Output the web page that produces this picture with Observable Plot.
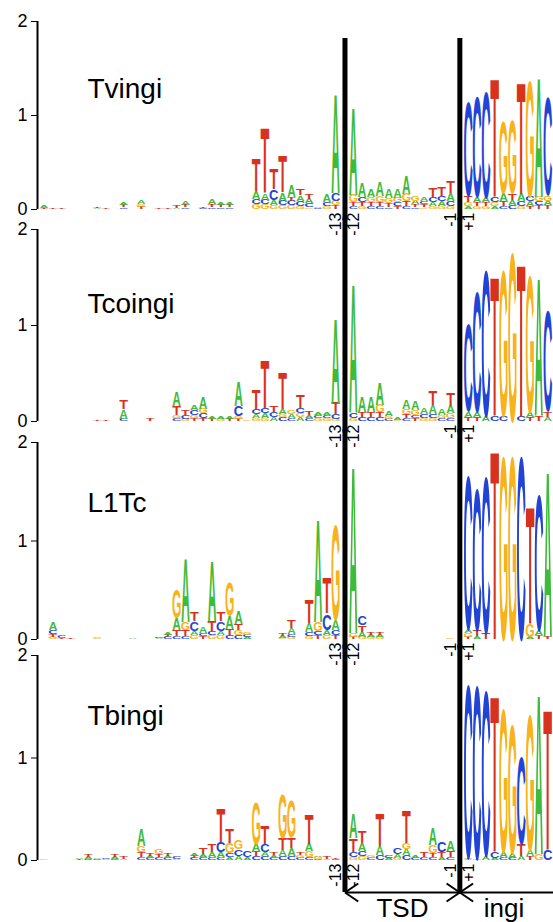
<!DOCTYPE html>
<html><head><meta charset="utf-8">
<script src="https://cdn.jsdelivr.net/npm/d3@7"></script>
<script src="https://cdn.jsdelivr.net/npm/@observablehq/plot@0.6"></script>
<style>
html,body{margin:0;padding:0;background:#fff;overflow:hidden;}
#chart svg{display:block;}
</style></head><body><div id="chart"></div>
<script>
// ---- data ----
const panelNames = ["Tvingi", "Tcoingi", "L1Tc", "Tbingi"];
const tickPositions = [-13, -12, -1, 1];
const tickLabels = ["-13", "-12", "-1", "+1"];
const regionLabels = ["TSD", "ingi"];
const yTicks = [0, 1, 2];
// columns: [position, stack bottom->top as Letter+bits]
const tvingi = [
  [-46, "T.01 A.03"], [-45, "T.01"], [-44, "T.01"], [-40, "A.01 T.01"], [-39, "T.01"],
  [-37, "C.02 T.02 A.03"], [-35, "T.02 G.03 A.04"], [-33, "T.01"], [-32, "T.01"],
  [-31, "A.01 T.02"], [-30, "C.02 T.02 A.04"], [-28, "C.01 T.01"], [-27, "C.02 T.03 A.05"],
  [-26, "C.02 T.02 A.03"], [-25, "C.02 T.02 A.03"],
  [-22, "G.05 C.06 A.08 T.35"], [-21, "G.05 C.05 A.07 T.71"], [-20, "G.04 A.06 C.11 T.23"],
  [-19, "G.04 C.05 A.09 T.39"], [-18, "G.04 C.05 T.04 A.12"], [-17, "G.03 C.06 A.06 T.07"],
  [-16, "G.02 C.04 A.05 T.06"], [-15, "C.01 A.01"], [-14, "G.03 C.04 A.09"],
  [-13, "T.04 G.05 C.08 A1.07"],
  [-12, "C.03 T.04 G.08 A.95"], [-11, "G.03 T.04 C.06 A.15"], [-10, "C.03 T.04 G.06 A.09"],
  [-9, "C.03 T.04 G.07 A.16"], [-8, "C.02 T.04 G.06 A.10"], [-7, "T.03 C.04 G.05 A.10"],
  [-6, "C.03 T.05 G.08 A.19"], [-5, "C.02 T.03 A.04 G.05"], [-4, "G.02 T.03 C.03 A.04"],
  [-3, "G.03 A.04 C.06 T.10"], [-2, "G.03 A.05 C.06 T.10"], [-1, "G.03 C.05 A.09 T.12"],
  [1, "A.03 G.04 T.07 C1.05"], [2, "G.03 T.04 A.06 C1.12"], [3, "G.03 T.04 A.05 C1.18"],
  [4, "A.03 G.04 C.06 T1.28"], [5, "C.03 T.05 A.09 G.80"], [6, "C.04 A.06 T.07 G.82"],
  [7, "G.03 C.05 A.08 T1.22"], [8, "T.03 A.05 C.06 G1.30"], [9, "T.04 C.04 G.05 A1.30"],
  [10, "T.04 A.05 G.06 C1.10"]
];
const tcoingi = [
  [-40, "T.01"], [-39, "T.01"], [-37, "C.02 A.10 T.10"], [-34, "T.02"],
  [-31, "C.03 G.03 T.10 A.15"], [-30, "G.02 C.04 T.06"], [-29, "T.03 G.03 C.05 A.05"],
  [-28, "T.03 C.05 G.05 A.12"], [-27, "T.02 A.03"], [-26, "G.02 A.03"], [-25, "T.02 A.03"],
  [-24, "T.02 G.03 C.11 A.26"], [-23, "G.01"], [-22, "G.03 A.04 C.06 T.21"],
  [-21, "G.03 A.05 C.06 T.51"], [-20, "A.04 C.05 T.07"], [-19, "C.04 G.03 A.05 T.38"],
  [-18, "C.03 A.04 G.04"], [-17, "A.04 G.04 C.06 T.13"], [-16, "C.03 A.03 T.04"],
  [-15, "G.03 C.03 A.03"], [-14, "G.03 C.03 A.03"], [-13, "G.02 C.05 T.12 A.90"],
  [-12, "G.03 C.06 A1.37"], [-11, "C.04 T.05 A.16"], [-10, "C.04 T.05 A.16"],
  [-9, "C.04 T.05 G.08 A.24"], [-8, "C.02 G.03 A.05"], [-7, "G.01 A.02"],
  [-6, "C.03 T.04 G.05 A.10"], [-5, "T.03 C.03 G.05 A.10"], [-4, "G.03 C.04 A.07"],
  [-3, "G.03 C.04 A.10 T.15"], [-2, "C.03 G.03 A.07"], [-1, "C.03 G.05 A.08 T.14"],
  [1, "T.04 A.06 C.96"], [2, "T.04 A.06 C1.31"], [3, "A.05 C1.60"], [4, "C.05 T1.48"],
  [5, "C.05 G1.60"], [6, "G1.85"], [7, "C.05 T1.62"], [8, "T.04 A.05 G1.50"],
  [9, "T.05 A1.47"], [10, "A.04 T.06 C1.10"]
];
const l1tc = [
  [-45, "G.02 T.03 C.04 A.08"], [-44, "T.01 C.02"], [-43, "T.01"], [-40, "G.01 A.01"],
  [-36, "A.01"], [-33, "A.01 C.01"], [-32, "C.02 T.02 A.02"],
  [-31, "C.03 T.06 A.12 G.31"], [-30, "C.03 T.06 G.08 A.66"], [-29, "G.04 A.04 C.10 T.09"],
  [-28, "T.03 C.03 A.06"], [-27, "G.04 C.04 T.10 A.62"], [-26, "G.04 A.04 C.10 T.09"],
  [-25, "C.04 T.06 A.13 G.36"], [-24, "C.04 G.05 T.06 A.14"], [-23, "A.02 C.02 G.02"],
  [-19, "G.01 A.02 T.02"], [-18, "G.02 C.03 A.06 T.08"], [-16, "G.03 C.04 A.09 T.24"],
  [-15, "T.04 C.04 G.09 A1.07"], [-14, "G.04 A.05 C.17 T.36"], [-13, "T.04 C.05 A.10 G1.02"],
  [-12, "T.02 G.04 A1.73"], [-11, "G.02 A.05 T.07 C.10"], [-10, "G.02 A.02 T.03"],
  [-9, "G.02 A.02 T.03"], [-1, "G.01"],
  [1, "T.02 G.04 A.04 C1.65"], [2, "A.03 T.06 C1.52"], [3, "T.06 C1.67"], [4, "T1.96"],
  [5, "G1.96"], [6, "G1.96"], [7, "C1.96"], [8, "A.02 G.14 T1.22"], [9, "T.04 A.05 C1.45"],
  [10, "T.03 A1.72"]
];
const tbingi = [
  [-46, "G.01"], [-42, "T.01 A.01"], [-41, "C.01 A.02 T.03"], [-40, "C.01 A.01"],
  [-39, "A.01 C.01"], [-38, "C.01 A.02 T.03"], [-37, "A.01 T.02"],
  [-35, "C.03 T.05 G.06 A.17"], [-34, "C.02 A.02 T.02"], [-33, "C.03 T.03 G.05"],
  [-32, "C.02 A.02 T.02"], [-31, "A.01 C.02"], [-29, "C.02 T.02 A.02"],
  [-28, "C.03 A.03 T.06"], [-27, "C.03 A.05 T.08"], [-26, "C.03 A.05 C.10 T.34"],
  [-25, "A.03 C.04 G.10 T.14"], [-24, "A.04 C.07 G.09"], [-23, "A.03 C.07"],
  [-22, "C.04 T.05 A.07 G.43"], [-21, "C.04 A.04 C.08 T.18"], [-20, "C.02 A.03 T.03"],
  [-19, "C.04 A.06 T.11 G.45"], [-18, "C.04 A.08 T.10 G.38"], [-17, "C.02 G.03 T.03"],
  [-16, "C.03 G.06 A.07 T.30"], [-15, "C.01 G.02 A.01"], [-14, "A.01 T.02"], [-13, "C.01 T.01"],
  [-12, "G.03 C.05 T.13 A.24"], [-11, "G.04 C.05 A.08 T.11"], [-10, "C.02 G.02"],
  [-9, "C.05 A.09 T.32"], [-8, "A.02 C.03"], [-7, "G.02 A.04 C.06"],
  [-6, "C.05 A.06 G.06 T.32"], [-5, "C.02 A.02"], [-4, "C.03 T.05"],
  [-3, "C.03 T.04 G.08 A.17"], [-2, "A.03 T.05 C.10"], [-1, "C.03 T.06 A.10"],
  [1, "A.01 T.01 C1.78"], [2, "T.01 C1.78"], [3, "A.04 C1.70"], [4, "A.02 C.06 T1.55"],
  [5, "C.03 A.05 G1.48"], [6, "C.02 A.05 G1.32"], [7, "A.04 T.12 C.90"],
  [8, "T.04 A.06 G1.40"], [9, "G.06 A1.60"], [10, "C.10 T1.40"]
];
const panelColumns = [tvingi, tcoingi, l1tc, tbingi];

// ---- helpers ----
const FONT = "'Liberation Sans', Arial, Helvetica, sans-serif";
const LETTER_COLORS = {A: "#3dbb3a", C: "#2143d6", G: "#f8b21c", T: "#d8321f"};
const INK = {A: [0.70, 0.716], C: [0.64, 0.74], G: [0.69, 0.74], T: [0.58, 0.716]};
// gap column between -13/-12 and between -1/+1
const posToX = p => (p <= -13 ? p : p + 1);
const boundaries = [(posToX(-13) + posToX(-12)) / 2, (posToX(-1) + posToX(1)) / 2];
const xDomain = [-46.8, 11.6];

function stackLetters(cols) {
  const out = [];
  for (const [p, s] of cols) {
    let y = 0;
    for (const tok of s.split(" ")) {
      const L = tok[0], h = +tok.slice(1);
      out.push({x: posToX(p), letter: L, y0: y, y1: y + h});
      y += h;
    }
  }
  return out;
}

function logoRender(data) {
  return (index, scales) => {
    const g = d3.create("svg:g").attr("font-family", FONT).attr("font-weight", "bold").attr("text-anchor", "middle");
    const w = Math.abs(scales.x(1) - scales.x(0)) * 0.94;
    const fs = 20;
    for (const i of index) {
      const d = data[i];
      const yb = scales.y(d.y0), yt = scales.y(d.y1);
      const h = yb - yt;
      if (h <= 0) continue;
      const [we, he] = INK[d.letter];
      g.append("text")
        .attr("transform", `translate(${scales.x(d.x)},${yb}) scale(${w / (we * fs)},${h / (he * fs)})`)
        .attr("font-size", fs)
        .attr("fill", LETTER_COLORS[d.letter])
        .text(d.letter);
    }
    return g.node();
  };
}

const cfg = [
  {h: 219, mt: 21, mb: 10, r: [-0.12, 1.82], ty: 1.19},
  {h: 212, mt: 10, mb: 10, r: [-0.12, 2.12], ty: 1.135},
  {h: 216, mt: 11, mb: 8, r: [-0.1, 2.13], ty: 1.29},
  {h: 275, mt: 8, mb: 62, r: [-0.312, 2.1], ty: 1.32}
];

const root = document.getElementById("chart");
panelNames.forEach((name, k) => {
  const c = cfg[k];
  const letters = stackLetters(panelColumns[k]);
  const ticks = tickPositions.map((p, i) => ({x: posToX(p), label: tickLabels[i]}));
  const marks = [
    Plot.ruleX([xDomain[0]], {y1: 0, y2: 2, stroke: "black", strokeWidth: 2}),
    Plot.text([name], {x: xDomain[0] + 5.65, y: c.ty, text: d => d, textAnchor: "start", lineAnchor: "bottom", fontSize: 28, fill: "black"}),
    Plot.text(letters, {x: "x", y: "y1", text: "letter", render: logoRender(letters)}),
    Plot.text(ticks, {x: "x", y: 0, text: "label", rotate: -90, textAnchor: "end", lineAnchor: "middle", dy: 3, fontSize: 16, fill: "black"}),
    Plot.ruleX(boundaries, {y1: c.r[0], y2: c.r[1], stroke: "black", strokeWidth: 5})
  ];
  if (k === 3) {
    const yb = c.r[0], yu = -0.224, yd = -0.4, a = 1.5;
    const links = [
      {x1: boundaries[0], y1: yb, x2: xDomain[1] + 1, y2: yb},
      {x1: boundaries[0], y1: yb, x2: boundaries[0] + a, y2: yu},
      {x1: boundaries[0], y1: yb, x2: boundaries[0] + a, y2: yd},
      {x1: boundaries[1] - a, y1: yu, x2: boundaries[1] + a, y2: yd},
      {x1: boundaries[1] - a, y1: yd, x2: boundaries[1] + a, y2: yu}
    ];
    marks.push(Plot.link(links, {x1: "x1", y1: "y1", x2: "x2", y2: "y2", stroke: "black", strokeWidth: 2}));
    marks.push(Plot.text([regionLabels[0]], {x: (boundaries[0] + boundaries[1]) / 2, y: -0.556, text: d => d, textAnchor: "middle", lineAnchor: "bottom", fontSize: 26, fill: "black"}));
    marks.push(Plot.text([regionLabels[1]], {x: boundaries[1] + 2.7, y: -0.556, text: d => d, textAnchor: "start", lineAnchor: "bottom", fontSize: 26, fill: "black"}));
  }
  const chart = Plot.plot({
    width: 553,
    height: c.h,
    marginTop: c.mt,
    marginBottom: c.mb,
    marginLeft: 37,
    marginRight: 0,
    style: {fontFamily: FONT, fontSize: "18px", background: "transparent", overflow: "visible", color: "black"},
    x: {domain: xDomain, axis: null},
    y: {domain: [0, 2], ticks: yTicks, tickSize: 6, tickPadding: 4, label: null, tickFormat: d => String(d)},
    marks
  });
  root.appendChild(chart);
});
</script></body></html>
